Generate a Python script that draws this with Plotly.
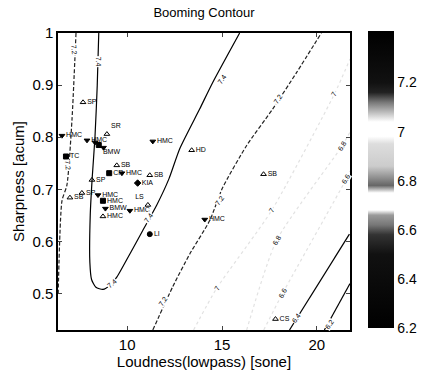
import plotly.graph_objects as go

# ---- data ----
# contour lines (loudness [sone], sharpness [acum])
lineA_x = [7.30, 7.09, 6.82, 6.56, 6.36]          # 7.2 (dashed, left)
lineA_y = [1.00, 0.835, 0.708, 0.678, 0.50]
lineB_x = [8.50, 8.42, 8.30, 8.15, 8.05, 8.03, 8.12, 8.35, 8.72, 9.09, 9.46, 10.14, 10.82, 11.56, 12.20, 12.77, 13.82, 14.51, 15.93]  # 7.4
lineB_y = [1.00, 0.90, 0.80, 0.72, 0.65, 0.56, 0.527, 0.512, 0.508, 0.516, 0.532, 0.576, 0.621, 0.670, 0.720, 0.778, 0.854, 0.905, 1.00]
lineC_x = [11.35, 12.40, 13.30, 14.35, 15.03, 16.30, 17.67, 18.93, 20.24]  # 7.2 (dashed)
lineC_y = [0.43, 0.513, 0.576, 0.640, 0.703, 0.784, 0.854, 0.924, 1.00]
lineD_x = [18.56, 21.72]   # 6.4
lineD_y = [0.43, 0.614]
lineE_x = [20.40, 21.75]   # 6.2
lineE_y = [0.43, 0.519]
faint7_x = [13.5, 14.72, 17.61, 20.93, 21.75]
faint7_y = [0.43, 0.51, 0.659, 0.883, 0.95]
faint68_x = [16.3, 17.88, 21.35, 21.75]
faint68_y = [0.43, 0.602, 0.784, 0.81]
faint66_x = [17.2, 18.19, 21.56, 21.75]
faint66_y = [0.43, 0.50, 0.72, 0.735]

# contour level labels
clab_text = ["7.2", "7.2", "7.4", "7.4", "7.4", "7.4", "7.2", "7.2", "7.2",
             "7", "6.8", "6.6", "7", "7", "6.8", "6.6", "6.4", "6.2"]
clab_x = [7.19, 6.88, 8.46, 9.19, 11.15, 14.98, 11.88, 14.88, 17.93,
          20.93, 21.35, 21.56, 17.61, 14.72, 17.88, 18.19, 18.88, 20.67]
clab_y = [0.968, 0.746, 0.945, 0.519, 0.645, 0.911, 0.485, 0.678, 0.873,
          0.883, 0.784, 0.720, 0.659, 0.510, 0.602, 0.500, 0.453, 0.440]
clab_ang = [85, 85, 90, -40, -55, -55, -55, -55, -55,
            -60, -60, -60, -60, -60, -60, -60, -55, -55]

# measured vehicles
pt_x = [7.67, 6.56, 6.77, 7.88, 8.93, 8.30, 8.50, 8.75, 11.35, 13.40,
        9.45, 9.05, 9.72, 8.14, 11.19, 10.55, 7.61, 6.98, 8.46, 8.72,
        8.72, 8.85, 10.14, 11.09, 11.19, 14.09, 17.19, 17.82]
pt_y = [0.867, 0.803, 0.763, 0.794, 0.806, 0.790, 0.785, 0.780, 0.792, 0.775,
        0.746, 0.731, 0.731, 0.718, 0.727, 0.712, 0.693, 0.684, 0.689, 0.678,
        0.648, 0.663, 0.659, 0.670, 0.614, 0.642, 0.729, 0.451]
pt_sym = ["triangle-up-open", "triangle-down", "square", "triangle-down", "triangle-up-open",
          "triangle-down", "square", "triangle-down", "triangle-down", "triangle-up-open",
          "triangle-up-open", "square", "triangle-down", "triangle-up-open", "triangle-up-open",
          "diamond", "triangle-up-open", "triangle-up-open", "triangle-down", "square",
          "triangle-up-open", "triangle-down", "triangle-down", "triangle-up-open", "circle",
          "triangle-down", "triangle-up-open", "triangle-up-open"]
pt_label = ["SP", "HMC", "TC", "HMC", "SR", "", "BMW", "", "HMC", "HD",
            "SB", "CR", "HMC", "SP", "SB", "KIA", "SP", "SB", "HMC", "HMC",
            "HMC", "BMW", "HMC", "LS", "LI", "HMC", "SB", "CS"]
pt_pos = ["middle right", "middle right", "middle right", "middle right", "top right",
          "middle right", "bottom right", "middle right", "middle right", "middle right",
          "middle right", "middle right", "middle right", "middle right", "middle right",
          "middle right", "middle right", "middle right", "middle right", "middle right",
          "middle right", "middle right", "middle right", "top left", "middle right",
          "middle right", "middle right", "middle right"]

# colorbar
cbar_min, cbar_max = 6.2, 7.41
cbar_ticks = [6.2, 6.4, 6.6, 6.8, 7.0, 7.2]
cbar_ticktext = ["6.2", "6.4", "6.6", "6.8", "7", "7.2"]
cscale = [[0.0, "#000000"], [0.248, "#111111"], [0.314, "#333333"], [0.347, "#777777"],
          [0.38, "#9a9a9a"], [0.397, "#ffffff"], [0.455, "#ffffff"], [0.48, "#666666"],
          [0.512, "#999999"], [0.545, "#cccccc"], [0.62, "#dddddd"], [0.645, "#ffffff"],
          [0.694, "#ffffff"], [0.727, "#bbbbbb"], [0.76, "#777777"], [0.793, "#222222"],
          [0.826, "#111111"], [1.0, "#000000"]]

x_ticks = [10, 15, 20]
y_ticks = [0.5, 0.6, 0.7, 0.8, 0.9, 1.0]
y_ticktext = ["0.5", "0.6", "0.7", "0.8", "0.9", "1"]

FONT = "Arial, Liberation Sans, sans-serif"

fig = go.Figure()

for xs, ys, col, dash in [
    (faint7_x, faint7_y, "#e2e2e2", "dot"),
    (faint68_x, faint68_y, "#e2e2e2", "dot"),
    (faint66_x, faint66_y, "#e2e2e2", "dot"),
    (lineA_x, lineA_y, "#222222", "4px,2px"),
    (lineB_x, lineB_y, "#000000", "solid"),
    (lineC_x, lineC_y, "#222222", "4px,2px"),
    (lineD_x, lineD_y, "#000000", "solid"),
    (lineE_x, lineE_y, "#000000", "solid"),
]:
    fig.add_trace(go.Scatter(x=xs, y=ys, mode="lines", line=dict(color=col, width=1.2, dash=dash,
                                                              shape="spline", smoothing=0.6),
                             hoverinfo="skip", showlegend=False))

fig.add_trace(go.Scatter(
    x=pt_x, y=pt_y, mode="markers+text", text=pt_label, textposition=pt_pos,
    textfont=dict(family=FONT, size=7, color="#000000"),
    marker=dict(symbol=pt_sym, size=5, color="#000000", line=dict(color="#000000", width=1)),
    showlegend=False, cliponaxis=False))

# invisible trace carrying the colorbar
fig.add_trace(go.Scatter(
    x=[pt_x[0]], y=[pt_y[0]], mode="markers",
    marker=dict(size=0.1, opacity=0, color=[cbar_min], cmin=cbar_min, cmax=cbar_max,
                colorscale=cscale, showscale=True,
                colorbar=dict(x=1.0616, xanchor="left", y=0.5066, yanchor="middle",
                              len=1.0, lenmode="fraction", thickness=26, thicknessmode="pixels",
                              xpad=0, ypad=0, outlinewidth=0,
                              tickvals=cbar_ticks, ticktext=cbar_ticktext, ticks="",
                              tickfont=dict(family=FONT, size=14, color="black"))),
    hoverinfo="skip", showlegend=False))

for t, x, y, a in zip(clab_text, clab_x, clab_y, clab_ang):
    fig.add_annotation(x=x, y=y, text=t, showarrow=False, textangle=a,
                       font=dict(family=FONT, size=7, color="#000000"),
                       bgcolor="white", borderpad=0)

fig.update_layout(
    width=426, height=377,
    margin=dict(l=58, r=76, t=33, b=42),
    paper_bgcolor="white", plot_bgcolor="white",
    title=dict(text="Booming Contour", x=0.5, xref="paper", xanchor="center",
               y=1, yref="container", yanchor="top", pad=dict(t=8),
               font=dict(family=FONT, size=13, color="black")),
    showlegend=False,
)
fig.update_xaxes(range=[6.35, 21.75], tickvals=x_ticks, ticks="inside", ticklen=4,
                 showline=True, linecolor="black", linewidth=1.5, mirror="ticks",
                 showgrid=False, zeroline=False,
                 tickfont=dict(family=FONT, size=15, color="black"),
                 title=dict(text="Loudness(lowpass) [sone]", standoff=2,
                            font=dict(family=FONT, size=15, color="black")))
fig.update_yaxes(range=[0.43, 1.0], tickvals=y_ticks, ticktext=y_ticktext, ticks="inside", ticklen=4,
                 showline=True, linecolor="black", linewidth=1.5, mirror="ticks",
                 showgrid=False, zeroline=False,
                 tickfont=dict(family=FONT, size=15, color="black"),
                 title=dict(text="Sharpness [acum]", standoff=4,
                            font=dict(family=FONT, size=15, color="black")))

fig.write_html("out.html")
